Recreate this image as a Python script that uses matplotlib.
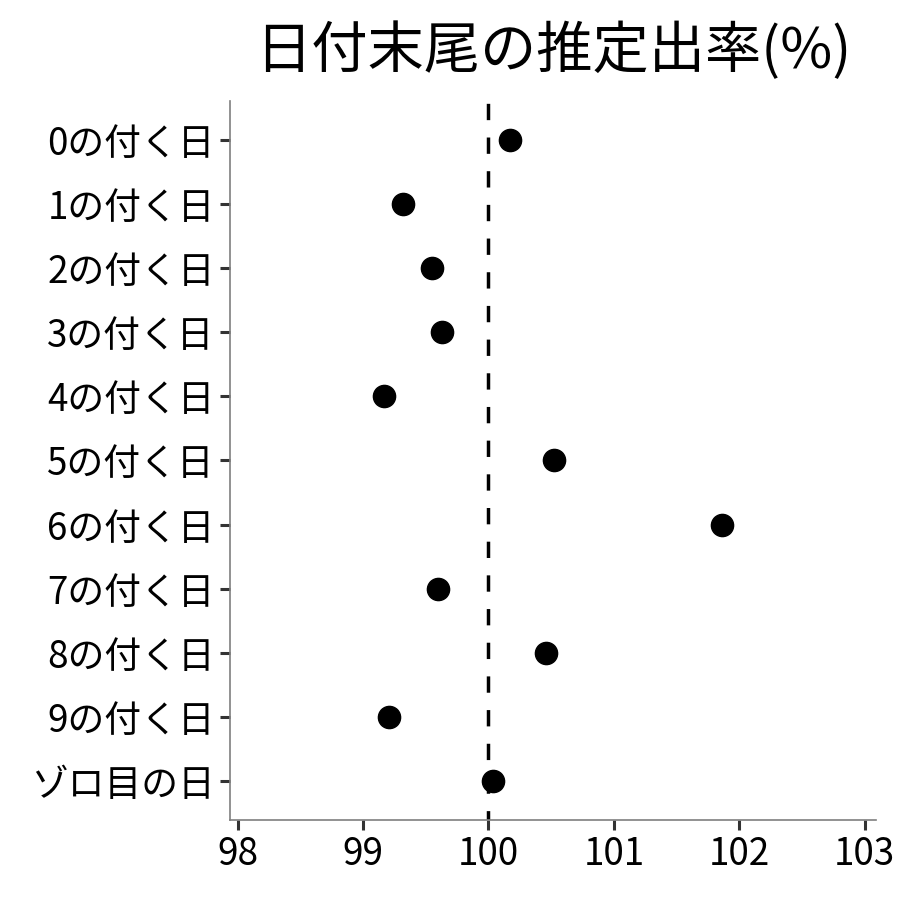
import matplotlib
matplotlib.use("Agg")
import matplotlib.pyplot as plt

plt.rcParams['font.family'] = ['Noto Sans CJK JP', 'DejaVu Sans']

labels = ["0の付く日", "1の付く日", "2の付く日", "3の付く日", "4の付く日",
          "5の付く日", "6の付く日", "7の付く日", "8の付く日", "9の付く日", "ゾロ目の日"]
rates = [100.17, 99.32, 99.55, 99.63, 99.17, 100.52, 101.86, 99.60, 100.46, 99.21, 100.04]
xticks = [98, 99, 100, 101, 102, 103]

fig = plt.figure(figsize=(9, 9), dpi=100)
ax = fig.add_axes([230 / 900, 80 / 900, 646 / 900, 719 / 900])

ypos = list(range(len(labels)))
ax.axvline(100, color="black", linestyle=(2, (4.7, 5.0)), linewidth=2.5, zorder=1)
ax.plot(rates, ypos, "o", color="black", markersize=16, linestyle="none", zorder=2)

ax.set_yticks(ypos)
ax.set_yticklabels(labels)
ax.set_ylim(len(labels) - 0.4, -0.6)
ax.set_xticks(xticks)
ax.set_xticklabels([str(t) for t in xticks])
ax.set_xlim(97.94, 103.09)

for s in ["top", "right"]:
    ax.spines[s].set_visible(False)
for s in ["left", "bottom"]:
    ax.spines[s].set_color("#7f7f7f")
    ax.spines[s].set_linewidth(1.2)
ax.tick_params(axis="both", colors="#333333", width=2.2, length=7,
               labelsize=26.5, labelcolor="black", pad=4)

ax.set_title("日付末尾の推定出率(%)", fontsize=40.5, pad=24)

fig.savefig("out.png", dpi=100)
